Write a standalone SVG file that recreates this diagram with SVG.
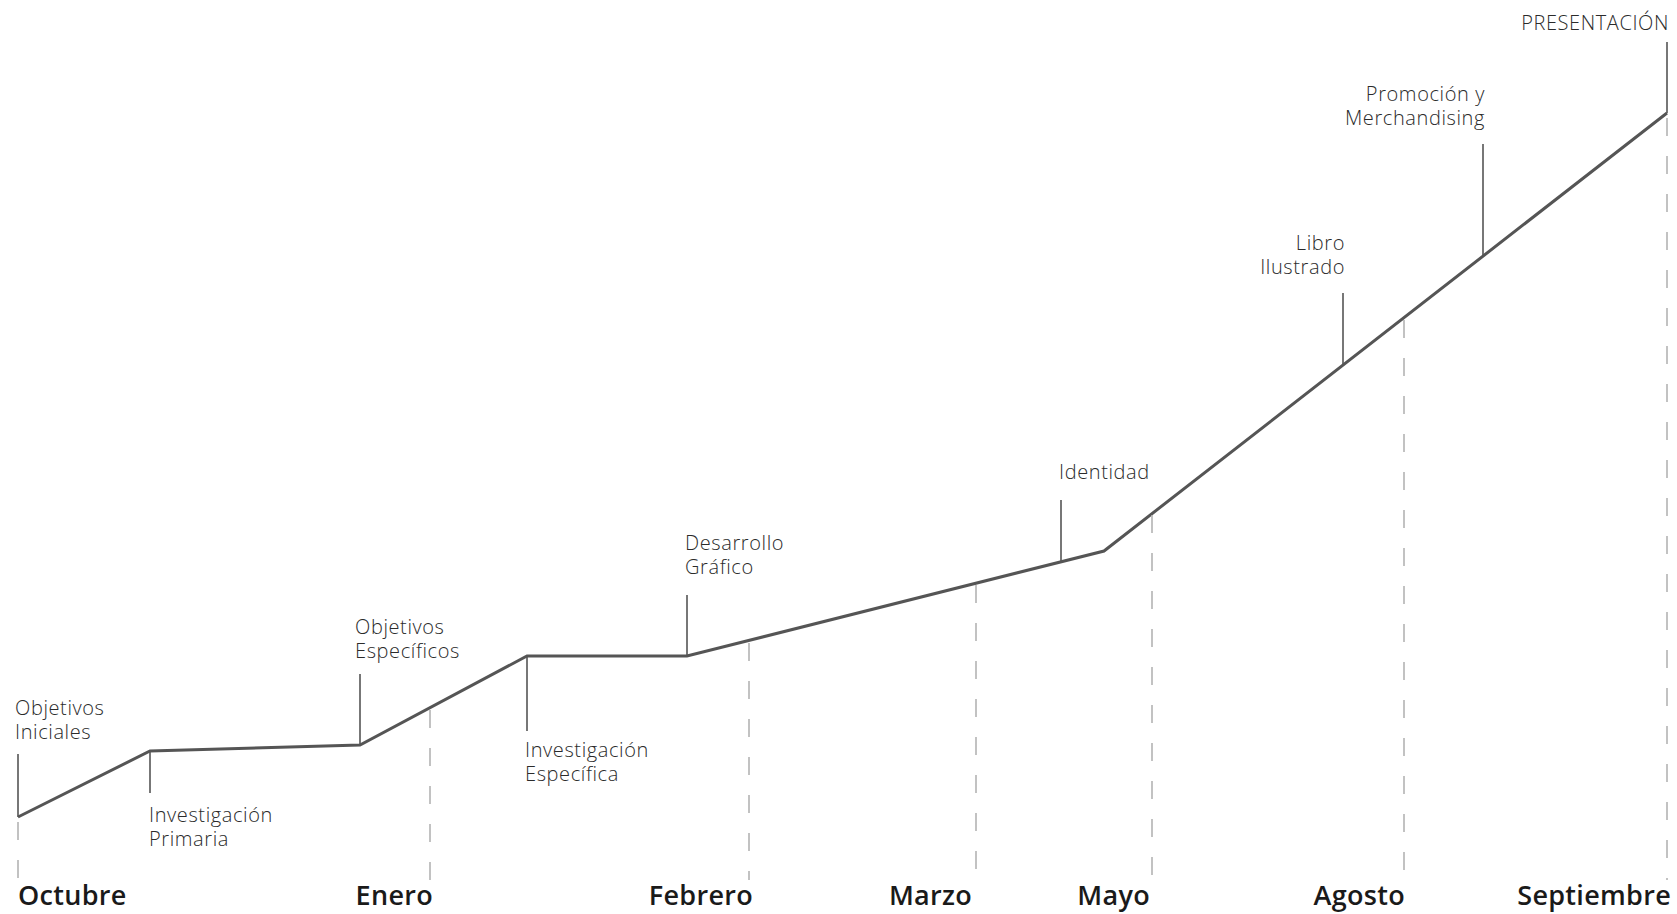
<svg xmlns="http://www.w3.org/2000/svg" width="1677" height="914" viewBox="0 0 1677 914">
<style>
.bg{fill:#fff}
.main{fill:none;stroke:#555;stroke-width:3;stroke-linejoin:miter}
.tick{stroke:#555;stroke-width:1.6;fill:none}
.dash{stroke:#b3b3b3;stroke-width:1.6;stroke-dasharray:18 20;fill:none}
.lbl{font-family:"Open Sans","Liberation Sans",sans-serif;font-weight:300;font-size:20px;letter-spacing:0.6px;fill:#2b2b2b}
.mon{font-family:"Open Sans","Liberation Sans",sans-serif;font-weight:600;font-size:27px;letter-spacing:0.3px;fill:#1a1a1a}
.end{text-anchor:end}
</style>
<rect class="bg" width="1677" height="914"/>
<g id="connectors">
  <polyline class="main" points="18,817 150,751 360,745 527,656 687,656 1104,551 1667,113"/>
  <line class="dash" x1="18" y1="822" x2="18" y2="880"/>
  <line class="dash" x1="430" y1="710" x2="430" y2="880"/>
  <line class="dash" x1="749" y1="643" x2="749" y2="880"/>
  <line class="dash" x1="976" y1="585" x2="976" y2="880"/>
  <line class="dash" x1="1152" y1="515" x2="1152" y2="880"/>
  <line class="dash" x1="1404" y1="320" x2="1404" y2="880"/>
  <line class="dash" x1="1667" y1="118" x2="1667" y2="880"/>
</g>
<g id="objetivos-iniciales">
  <line class="tick" x1="18" y1="754" x2="18" y2="817"/>
  <text class="lbl" x="15" y="715">Objetivos</text>
  <text class="lbl" x="15" y="739">Iniciales</text>
</g>
<g id="investigacion-primaria">
  <line class="tick" x1="150" y1="751" x2="150" y2="793"/>
  <text class="lbl" x="149" y="822">Investigación</text>
  <text class="lbl" x="149" y="846">Primaria</text>
</g>
<g id="objetivos-especificos">
  <line class="tick" x1="360" y1="674" x2="360" y2="745"/>
  <text class="lbl" x="355" y="634">Objetivos</text>
  <text class="lbl" x="355" y="658">Específicos</text>
</g>
<g id="investigacion-especifica">
  <line class="tick" x1="527" y1="656" x2="527" y2="731"/>
  <text class="lbl" x="525" y="757">Investigación</text>
  <text class="lbl" x="525" y="781">Específica</text>
</g>
<g id="desarrollo-grafico">
  <line class="tick" x1="687" y1="595" x2="687" y2="656"/>
  <text class="lbl" x="685" y="550">Desarrollo</text>
  <text class="lbl" x="685" y="574">Gráfico</text>
</g>
<g id="identidad">
  <line class="tick" x1="1061" y1="500" x2="1061" y2="561"/>
  <text class="lbl" x="1059" y="479">Identidad</text>
</g>
<g id="libro-ilustrado">
  <line class="tick" x1="1343" y1="293" x2="1343" y2="366"/>
  <text class="lbl end" x="1345" y="250">Libro</text>
  <text class="lbl end" x="1345" y="274">Ilustrado</text>
</g>
<g id="promocion">
  <line class="tick" x1="1483" y1="144" x2="1483" y2="255"/>
  <text class="lbl end" x="1485" y="101">Promoción y</text>
  <text class="lbl end" x="1485" y="125">Merchandising</text>
</g>
<g id="presentacion">
  <line class="tick" x1="1667" y1="42" x2="1667" y2="113"/>
  <text class="lbl end" x="1669" y="30">PRESENTACIÓN</text>
</g>
<g id="months">
  <text class="mon" x="18" y="905">Octubre</text>
  <text class="mon end" x="433" y="905">Enero</text>
  <text class="mon end" x="753" y="905">Febrero</text>
  <text class="mon end" x="972" y="905">Marzo</text>
  <text class="mon end" x="1150" y="905">Mayo</text>
  <text class="mon end" x="1405" y="905">Agosto</text>
  <text class="mon end" x="1671" y="905">Septiembre</text>
</g>
</svg>
